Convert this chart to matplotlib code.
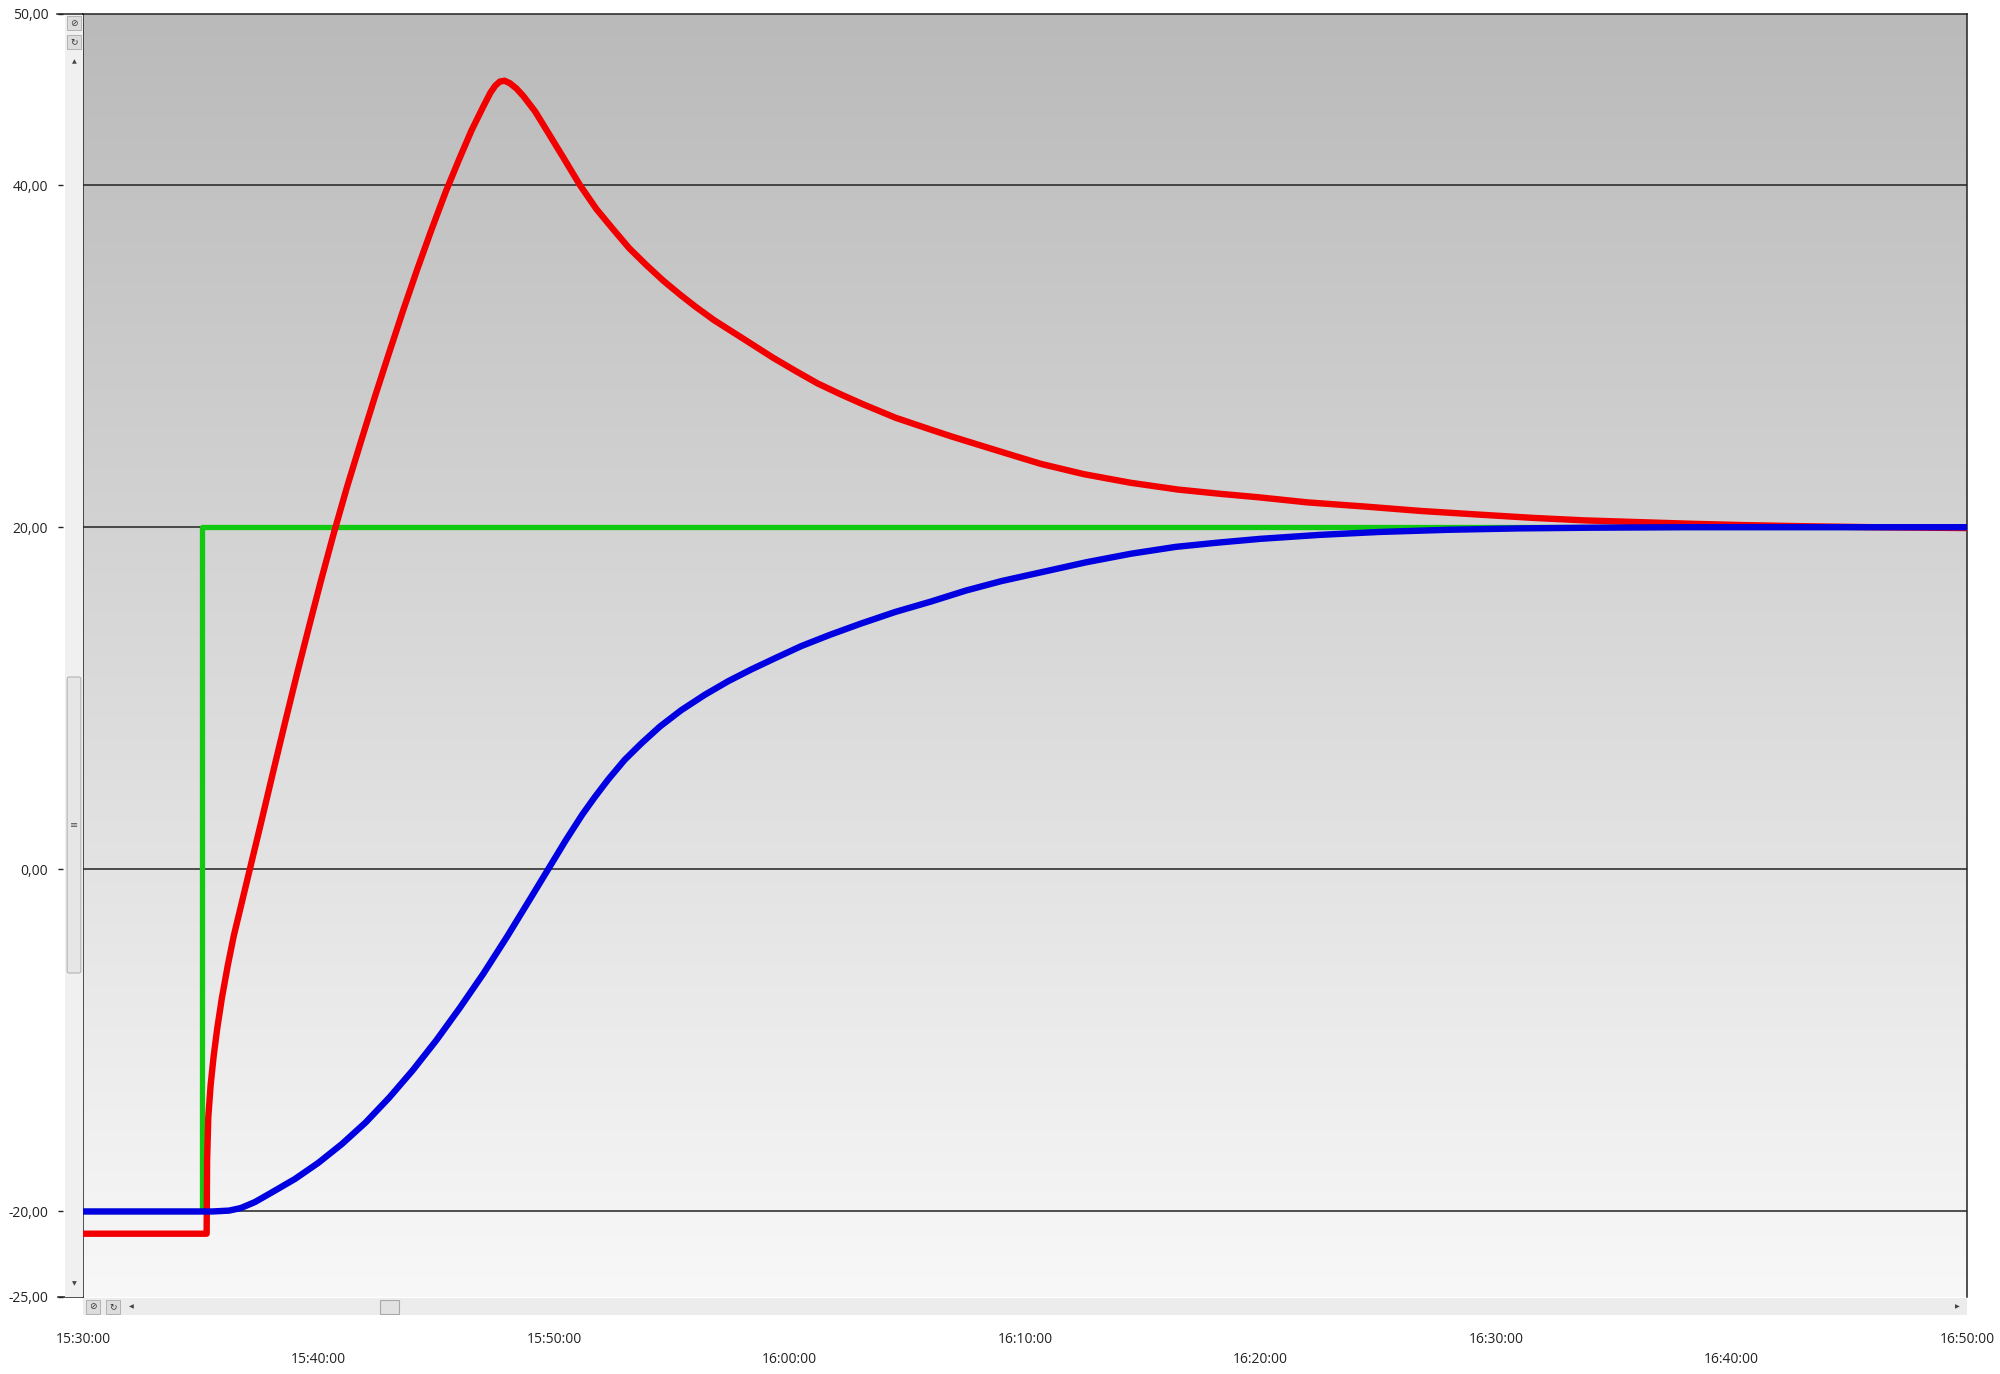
import numpy as np
import matplotlib
matplotlib.use("Agg")
import matplotlib.pyplot as plt
from matplotlib.colors import LinearSegmentedColormap
from matplotlib.patches import FancyBboxPatch, Rectangle

plt.rcParams['font.family'] = ['Open Sans', 'DejaVu Sans']

red_t = [0, 5.25, 5.27, 5.32, 5.42, 5.55, 5.7, 5.9, 6.15, 6.4, 6.75, 7.1,
         7.6, 8.1, 8.6, 9.1, 9.6, 10.1, 10.65, 11.2, 11.8, 12.4, 13.0, 13.6,
         14.2, 14.8, 15.4, 16.0, 16.5, 17.0, 17.3, 17.5, 17.7, 17.9, 18.13,
         18.4, 18.7, 19.2, 19.69, 20.4, 21.1, 21.8, 22.52, 23.2, 23.94, 24.65,
         25.35, 26.0, 26.8, 27.6, 28.4, 29.31, 30.3, 31.2, 32.2, 33.1, 34.5,
         35.9, 36.89, 38.3, 39.6, 40.68, 42.5, 44.47, 46.5, 48.3, 49.91, 52.0,
         54.51, 56.8, 59.12, 61.5, 63.72, 66.0, 68.32, 70.6, 72.93, 76, 80]
red_v = [-21.3, -21.3, -17.0, -14.5, -12.6, -10.9, -9.3, -7.5, -5.6, -3.9, -1.9, 0.1,
         2.95, 5.85, 8.7, 11.5, 14.2, 16.85, 19.65, 22.3, 25.0, 27.65, 30.2, 32.7,
         35.1, 37.4, 39.6, 41.6, 43.2, 44.6, 45.4, 45.8, 46.05, 46.1, 45.95,
         45.65, 45.2, 44.3, 43.2, 41.6, 40.0, 38.6, 37.4, 36.3, 35.3, 34.4,
         33.6, 32.9, 32.1, 31.4, 30.7, 29.9, 29.1, 28.4, 27.75, 27.2, 26.4,
         25.75, 25.3, 24.7, 24.15, 23.7, 23.1, 22.6, 22.2, 21.95, 21.75, 21.45,
         21.2, 20.95, 20.75, 20.55, 20.4, 20.3, 20.2, 20.12, 20.06, 20.0, 19.95]

blue_t = [0, 5.5, 6.2, 6.7, 7.3, 8.0, 9.0, 10.0, 11.0, 12.0, 13.0, 14.0, 15.0,
          16.0, 17.0, 18.0, 19.0, 19.75, 20.5, 21.2, 21.72, 22.3, 23.0, 23.7,
          24.5, 25.4, 26.4, 27.4, 28.4, 29.4, 30.5, 31.7, 33.0, 34.5, 36.0,
          37.5, 39.0, 40.8, 42.6, 44.5, 46.4, 48.2, 50.0, 52.5, 55.0, 58.0,
          61.0, 64.0, 68.0, 80]
blue_v = [-20, -20, -19.95, -19.8, -19.45, -18.9, -18.1, -17.15, -16.05, -14.8,
          -13.35, -11.75, -10.0, -8.1, -6.1, -3.95, -1.7, 0, 1.7, 3.2, 4.2, 5.25,
          6.4, 7.35, 8.35, 9.3, 10.2, 11.0, 11.7, 12.35, 13.05, 13.7, 14.35,
          15.05, 15.65, 16.3, 16.85, 17.4, 17.95, 18.45, 18.85, 19.1, 19.32,
          19.55, 19.72, 19.85, 19.93, 19.97, 20.0, 20.0]

green_t = [0, 5.05, 5.05, 80]
green_v = [-20, -20, 20, 20]

x_ticks = [0, 10, 20, 30, 40, 50, 60, 70, 80]
x_labels = ['15:30:00', '15:40:00', '15:50:00', '16:00:00', '16:10:00',
            '16:20:00', '16:30:00', '16:40:00', '16:50:00']
y_ticks = [50, 40, 20, 0, -20, -25]
y_labels = ['50,00', '40,00', '20,00', '0,00', '-20,00', '-25,00']
grid_y = [40, 20, 0, -20]

W, H = 2000, 1374
fig = plt.figure(figsize=(W / 100, H / 100), dpi=100)
fig.patch.set_facecolor('white')

L, R, T, B = 83, 1967, 14, 1297
ax = fig.add_axes([L / W, 1 - B / H, (R - L) / W, (B - T) / H])

# background gradient
cmap = LinearSegmentedColormap.from_list('bg', ['#bababa', '#f8f8f8'], N=1024)
ax.imshow(np.linspace(0, 1, 1024).reshape(-1, 1), cmap=cmap, aspect='auto',
          extent=[0, 80, -25, 50], zorder=0, interpolation='bilinear')

ax.plot(green_t, green_v, color='#12c912', lw=3.8, zorder=3)
ax.plot(red_t, red_v, color='#f20000', lw=4.6, zorder=4, solid_joinstyle='round')
ax.plot(blue_t, blue_v, color='#0000e0', lw=4.6, zorder=5, solid_joinstyle='round')

ax.set_xlim(0, 80)
ax.set_ylim(-25, 50)

ax.set_yticks(grid_y)
ax.yaxis.grid(True, color='#222222', lw=1.1)
ax.set_axisbelow(False)
for gl in ax.get_ygridlines():
    gl.set_zorder(1)
ax.tick_params(axis='y', length=0, labelleft=False)

# x labels in two staggered rows
ax.set_xticks(x_ticks[::2])
ax.set_xticklabels(x_labels[::2])
ax.set_xticks(x_ticks[1::2], minor=True)
ax.set_xticklabels(x_labels[1::2], minor=True)
ax.tick_params(axis='x', which='major', length=0, pad=25, labelsize=10, labelcolor='#222222')
ax.tick_params(axis='x', which='minor', length=0, pad=39.5, labelsize=10, labelcolor='#222222')

for s in ['top', 'left', 'right']:
    ax.spines[s].set_color('#222222')
    ax.spines[s].set_linewidth(1.1)
ax.spines['bottom'].set_visible(False)

# value labels sit left of the vertical scrollbar
sec = ax.secondary_yaxis(-20 / (R - L))
sec.set_yticks(y_ticks)
sec.set_yticklabels(y_labels)
sec.spines['left'].set_visible(False)
sec.tick_params(axis='y', length=3.6, width=1, color='#222222', pad=7,
                labelsize=10, labelcolor='#222222')

ytr = ax.get_yaxis_transform()
ax.plot([-26 / (R - L), 0], [50, 50], color='#222222', lw=1.1, transform=ytr, clip_on=False)
ax.plot([-25 / (R - L), 0], [-25, -25], color='#222222', lw=1.1, transform=ytr, clip_on=False)

# vertical scrollbar
vs = fig.add_axes([65 / W, 1 - B / H, 18 / W, (B - 15) / H])
vs.set_xlim(0, 1)
vs.set_ylim(B, 15)
vs.axis('off')
vs.add_patch(Rectangle((0, 15), 1, B - 15, facecolor='#f0f0f0', edgecolor='none'))
vs.add_patch(FancyBboxPatch((0.12, 677), 0.76, 296, boxstyle='round,pad=0,rounding_size=0.1',
                            facecolor='#e6e6e6', edgecolor='#b4b4b4', lw=0.8, mutation_aspect=20))
vs.text(0.5, 825, '≡', ha='center', va='center', fontsize=7, color='#555555', family='DejaVu Sans')
for yc, ch in [(23, '⊘'), (42, '↻')]:
    vs.add_patch(Rectangle((0.1, yc - 7), 0.8, 14, facecolor='#dcdcdc', edgecolor='#aaaaaa', lw=0.6))
    vs.text(0.5, yc, ch, ha='center', va='center', fontsize=6.5, color='#333333', family='DejaVu Sans')
vs.text(0.5, 62, '▲', ha='center', va='center', fontsize=4.5, color='#444444', family='DejaVu Sans')
vs.text(0.5, 1284, '▼', ha='center', va='center', fontsize=4.5, color='#444444', family='DejaVu Sans')

# horizontal scrollbar
hs = fig.add_axes([L / W, 1 - 1315 / H, (R - L) / W, 17 / H])
hs.set_xlim(L, R)
hs.set_ylim(1315, 1298)
hs.axis('off')
hs.add_patch(Rectangle((L, 1298), R - L, 17, facecolor='#ececec', edgecolor='none'))
hs.add_patch(Rectangle((380, 1299.5), 19, 14, facecolor='#e2e2e2', edgecolor='#a8a8a8', lw=0.8))
for xc, ch in [(93, '⊘'), (113, '↻')]:
    hs.add_patch(Rectangle((xc - 7, 1299.5), 14, 14, facecolor='#dcdcdc', edgecolor='#aaaaaa', lw=0.6))
    hs.text(xc, 1306.5, ch, ha='center', va='center', fontsize=6.5, color='#333333', family='DejaVu Sans')
hs.text(131, 1306.5, '◀', ha='center', va='center', fontsize=4.5, color='#444444', family='DejaVu Sans')
hs.text(1957, 1306.5, '▶', ha='center', va='center', fontsize=4.5, color='#444444', family='DejaVu Sans')

fig.savefig('out.png', dpi=100)
